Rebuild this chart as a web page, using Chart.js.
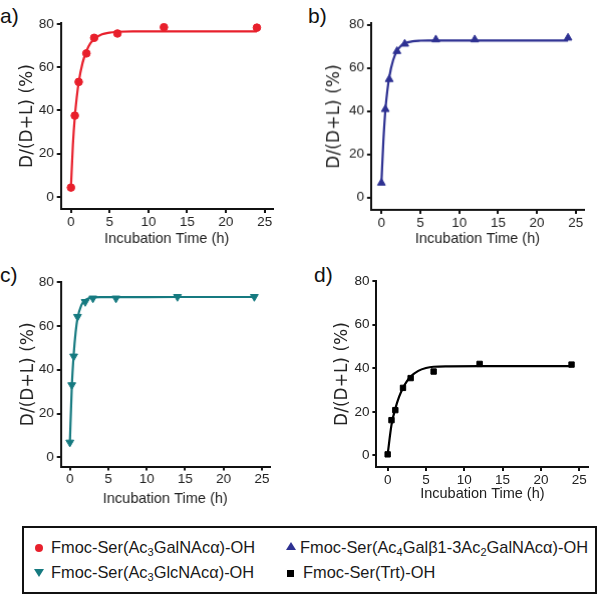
<!DOCTYPE html>
<html>
<head>
<meta charset="utf-8">
<script src="https://cdn.jsdelivr.net/npm/chart.js@4.4.0/dist/chart.umd.min.js"></script>
<style>
  body { margin:0; background:#fff; width:600px; height:597px; position:relative; overflow:hidden; font-family:"Liberation Sans", Arial, sans-serif; }
  .panel { position:absolute; }
  .tag { position:absolute; font-size:21px; line-height:20px; color:#111; }
  #legend { position:absolute; left:22px; top:526px; width:575px; height:68px; border:2px solid #111; box-sizing:border-box; }
  .item { position:absolute; font-size:16.4px; line-height:18px; color:#1a1a1a; white-space:nowrap; }
  .item sub { font-size:11px; vertical-align:-3px; line-height:0; }
  .mk { position:absolute; width:0; height:0; }
</style>
</head>
<body>
<div class="tag" style="left:0px;top:6px">a)</div>
<div class="tag" style="left:308px;top:6px">b)</div>
<div class="tag" style="left:0px;top:265px">c)</div>
<div class="tag" style="left:314px;top:265px">d)</div>

<div class="panel" id="boxA"><canvas id="chartA"></canvas></div>
<div class="panel" id="boxB"><canvas id="chartB"></canvas></div>
<div class="panel" id="boxC"><canvas id="chartC"></canvas></div>
<div class="panel" id="boxD"><canvas id="chartD"></canvas></div>

<div id="legend">
  <div class="mk" style="left:11px;top:16px;width:8px;height:8px;border-radius:50%;background:#e8202c"></div>
  <div class="item" style="left:27px;top:10px">Fmoc-Ser(Ac<sub>3</sub>GalNAcα)-OH</div>
  <div class="mk" style="left:10px;top:41px;border-left:5px solid transparent;border-right:5px solid transparent;border-top:8px solid #167a80"></div>
  <div class="item" style="left:27px;top:35px">Fmoc-Ser(Ac<sub>3</sub>GlcNAcα)-OH</div>
  <div class="mk" style="left:262px;top:14px;border-left:5px solid transparent;border-right:5px solid transparent;border-bottom:8px solid #2e3192"></div>
  <div class="item" style="left:276px;top:10px">Fmoc-Ser(Ac<sub>4</sub>Galβ1-3Ac<sub>2</sub>GalNAcα)-OH</div>
  <div class="mk" style="left:263px;top:42px;width:7px;height:7px;background:#000"></div>
  <div class="item" style="left:279px;top:35px">Fmoc-Ser(Trt)-OH</div>
</div>

<script>
// axis ticks
const xTicks = [0, 5, 10, 15, 20, 25];
const yTicks = [0, 20, 40, 60, 80];
const xTitle = "Incubation Time (h)";
const yTitle = "D/(D+L) (%)";

// a) Fmoc-Ser(Ac3GalNAca)-OH
const timesA = [0, 0.5, 1, 2, 3, 6, 12, 24];
const valuesA = [4.3, 37.6, 53.2, 66.4, 73.6, 75.6, 78.5, 78.3];
const fitTimesA = [0, 0.25, 0.5, 0.75, 1, 1.5, 2, 2.5, 3, 4, 5, 6, 8, 12, 24];
const fitValuesA = [4.5, 24, 37, 46, 53, 62, 67.5, 71, 73, 75.2, 76, 76.4, 76.6, 76.6, 76.6];

// b) Fmoc-Ser(Ac4Galb1-3Ac2GalNAca)-OH
const timesB = [0, 0.5, 1, 2, 3, 7, 12, 24];
const valuesB = [6.7, 40.8, 54.7, 67.7, 71.1, 73.1, 73.1, 73.9];
const fitTimesB = [0, 0.25, 0.5, 0.75, 1, 1.5, 2, 2.5, 3, 4, 5, 6, 8, 12, 24];
const fitValuesB = [6.7, 26, 40, 49, 55.5, 63.5, 67.8, 70.2, 71.4, 72.3, 72.6, 72.7, 72.7, 72.7, 72.7];

// c) Fmoc-Ser(Ac3GlcNAca)-OH
const timesC = [0, 0.25, 0.5, 1, 2, 3, 6, 14, 24];
const valuesC = [6.8, 33, 46.1, 64.2, 71, 72.6, 72.6, 73.3, 73.3];
const fitTimesC = [0, 0.25, 0.5, 0.75, 1, 1.5, 2, 2.5, 3, 4, 6, 14, 24];
const fitValuesC = [6.8, 32, 47, 57, 63.5, 69.5, 71.8, 72.7, 73, 73.1, 73.1, 73.2, 73.2];

// d) Fmoc-Ser(Trt)-OH
const timesD = [0, 0.5, 1, 2, 3, 6, 12, 24];
const valuesD = [0.5, 16.2, 20.8, 31, 35.5, 38.5, 42, 41.7];
const fitTimesD = [0, 0.5, 1, 1.5, 2, 2.5, 3, 4, 5, 6, 8, 12, 24];
const fitValuesD = [0.5, 14, 21.5, 27, 31, 34, 36.2, 38.8, 40.1, 40.7, 40.9, 41, 41];

const toXY = (xs, ys) => xs.map((x, i) => ({ x: x, y: ys[i] }));

// panel = plot area in page pixels + axis ranges
function makePanel(boxId, canvasId, p) {
  const yTitleHalf = 10.2, xTitleHalf = 8.7, padTop = 10, padRight = 10;
  const left = p.left - p.yTitleDist - yTitleHalf;
  const top = p.top - padTop;
  const width = p.right + padRight - left;
  const xAxisH = p.xTitleDist + xTitleHalf;
  const height = p.bottom + xAxisH - top;
  const yAxisW = p.left - left;

  const box = document.getElementById(boxId);
  box.style.left = left + "px";
  box.style.top = top + "px";
  box.style.width = width + "px";
  box.style.height = height + "px";

  const tickFont = { family: "'Liberation Sans', Arial, sans-serif", size: 13.5 };
  const axisGrid = { display: true, drawOnChartArea: false, drawTicks: true, tickLength: 4, color: "#111", lineWidth: 2 };

  new Chart(document.getElementById(canvasId), {
    type: "line",
    data: {
      datasets: [
        {
          data: toXY(p.fitTimes, p.fitValues),
          borderColor: p.color,
          borderWidth: 2.2,
          pointRadius: 0,
          cubicInterpolationMode: "monotone",
          fill: false
        },
        {
          data: toXY(p.times, p.values),
          showLine: false,
          pointStyle: p.marker,
          rotation: p.rotation || 0,
          pointRadius: p.radius,
          pointBackgroundColor: p.color,
          pointBorderColor: p.color,
          pointBorderWidth: 1
        }
      ]
    },
    options: {
      responsive: true,
      maintainAspectRatio: false,
      animation: false,
      layout: { padding: { top: padTop, right: padRight, left: 0, bottom: 0 } },
      plugins: { legend: { display: false }, tooltip: { enabled: false } },
      scales: {
        x: {
          type: "linear",
          min: p.xMin,
          max: p.xMax,
          afterBuildTicks: s => { s.ticks = xTicks.map(v => ({ value: v })); },
          afterFit: s => { s.height = xAxisH; },
          grid: axisGrid,
          border: { display: true, color: "#111", width: 2 },
          ticks: { font: tickFont, color: "#222", padding: 1 },
          title: { display: true, text: xTitle, color: "#222", padding: 0,
                   font: { family: "'Liberation Sans', Arial, sans-serif", size: 14.5 } }
        },
        y: {
          type: "linear",
          min: p.yMin,
          max: p.yMax,
          afterBuildTicks: s => { s.ticks = yTicks.map(v => ({ value: v })); },
          afterFit: s => { s.width = yAxisW; },
          grid: axisGrid,
          border: { display: true, color: "#111", width: 2 },
          ticks: { font: tickFont, color: "#222", padding: 3 },
          title: { display: true, text: yTitle, color: "#222", padding: 0,
                   font: { family: "'DejaVu Sans', sans-serif", size: 17 } }
        }
      }
    }
  });
}

makePanel("boxA", "chartA", {
  left: 61, top: 22, right: 272, bottom: 209, yTitleDist: 33.5, xTitleDist: 30.3,
  xMin: -1.3, xMax: 26.04, yMin: -5.6, yMax: 80.4,
  times: timesA, values: valuesA, fitTimes: fitTimesA, fitValues: fitValuesA,
  color: "#e8202c", marker: "circle", radius: 3.8
});
makePanel("boxB", "chartB", {
  left: 371, top: 22, right: 583, bottom: 209, yTitleDist: 36.7, xTitleDist: 29,
  xMin: -1.33, xMax: 26.04, yMin: -5.8, yMax: 80.7,
  times: timesB, values: valuesB, fitTimes: fitTimesB, fitValues: fitValuesB,
  color: "#2e3192", marker: "triangle", radius: 4.5
});
makePanel("boxC", "chartC", {
  left: 61, top: 280.5, right: 269, bottom: 466, yTitleDist: 32.5, xTitleDist: 32.3,
  xMin: -1.17, xMax: 26, yMin: -4.2, yMax: 80,
  times: timesC, values: valuesC, fitTimes: fitTimesC, fitValues: fitValuesC,
  color: "#167a80", marker: "triangle", rotation: 180, radius: 4.5
});
makePanel("boxD", "chartD", {
  left: 376, top: 280, right: 588, bottom: 467, yTitleDist: 34.2, xTitleDist: 26.7,
  xMin: -1.47, xMax: 26.2, yMin: -5.3, yMax: 80,
  times: timesD, values: valuesD, fitTimes: fitTimesD, fitValues: fitValuesD,
  color: "#000000", marker: "rect", radius: 3.8
});
</script>
</body>
</html>
